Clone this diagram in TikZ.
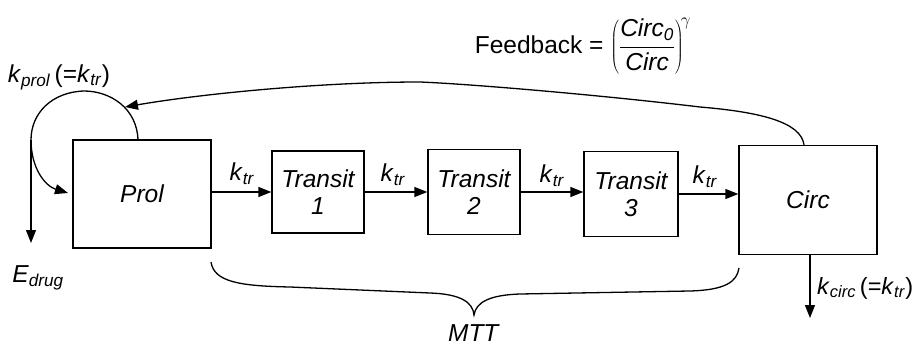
\documentclass[tikz,border=0pt]{standalone}
\usepackage{fontspec}
\setmainfont{Liberation Sans}
\usetikzlibrary{arrows.meta}
\newcommand\kk[1]{\textit{k}\textsubscript{\textit{#1}}}
\newcommand\bigfont{\fontsize{24.5}{27}\selectfont}
\begin{document}
\begin{tikzpicture}[x=1pt,y=-1pt,
  every node/.style={font=\bigfont},
  comp/.style={draw,line width=1.3pt,inner sep=0pt,align=center,font=\bigfont\itshape},
  arr/.style={line width=1.3pt,-{Triangle[length=13pt,width=10pt]}},
  ln/.style={line width=1.3pt}]
\useasboundingbox (0,0) rectangle (914,348);
\node[comp,minimum width=138pt,minimum height=108pt] (prol) at (142,194) {Prol};
\node[comp,minimum width=92pt,minimum height=82pt] (t1) at (318,192) {Transit\\1};
\node[comp,minimum width=92pt,minimum height=85pt] (t2) at (474,192) {Transit\\2};
\node[comp,minimum width=94pt,minimum height=85pt] (t3) at (631,194) {Transit\\3};
\node[comp,minimum width=138pt,minimum height=109pt] (circ) at (808,200) {Circ};
% transfer arrows
\draw[arr] (prol.east |- t1.west) -- (t1.west);
\node at (242,174) {\kk{tr}};
\draw[arr] (t1) -- (t2);
\node at (393,175) {\kk{tr}};
\draw[arr] (t2.east) -- (t3.west |- t2.east);
\node at (552,176) {\kk{tr}};
\draw[arr] (t3.east) -- (circ.west |- t3.east);
\node at (705,177) {\kk{tr}};
% self loop and E_drug
\coordinate (lp) at (31,140);
\coordinate (lt) at (138,140);
\coordinate (ltip) at (68,193);
\coordinate (ed) at (31,243);
\draw[ln] (lt) .. controls (137,108) and (110,91) .. (84,91)
   .. controls (52,92) and (31,113) .. (lp);
\draw[arr] (lp) .. controls (31,168) and (45,186) .. (ltip);
\draw[arr] (lp) -- (ed);
\node at (59,77) {\kk{prol}\,(=\kk{tr})};
\node at (38,278) {\textit{E}\textsubscript{\textit{drug}}};
% feedback
\coordinate (fbtip) at (125,107);
\draw[arr] (circ.north) ++(-4,0) coordinate (fbs)
  .. controls (801,122) and (760,112) .. (700,107)
  .. controls (600,95) and (470,84) .. (420,82)
  .. controls (320,82) and (200,94) .. (fbtip);
\node (fb) at (583,46) {Feedback = $\displaystyle\left(\frac{\mbox{\bigfont\itshape Circ\textsubscript{0}}}{\mbox{\bigfont\itshape Circ}}\right)^{\!\gamma}$};
% circ elimination
\coordinate (ce) at (810,318);
\draw[arr] (circ.south -| ce) -- (ce);
\node[anchor=west,inner sep=0pt,font=\fontsize{23.5}{26}\selectfont] at (817,288) {\kk{circ}\,(=\kk{tr})};
% brace
\coordinate (bl) at (211,262);
\coordinate (bt) at (474,315);
\coordinate (br) at (739,268);
\draw[ln] (bl) .. controls (214,282) and (240,286) .. (290,287)
  -- (430,293) .. controls (460,294) and (473,302) .. (bt)
  .. controls (476,302) and (490,295) .. (520,294)
  -- (690,291) .. controls (725,290) and (737,282) .. (br);
\node (mtt) at (474,333) {\textit{MTT}};
\end{tikzpicture}
\end{document}
